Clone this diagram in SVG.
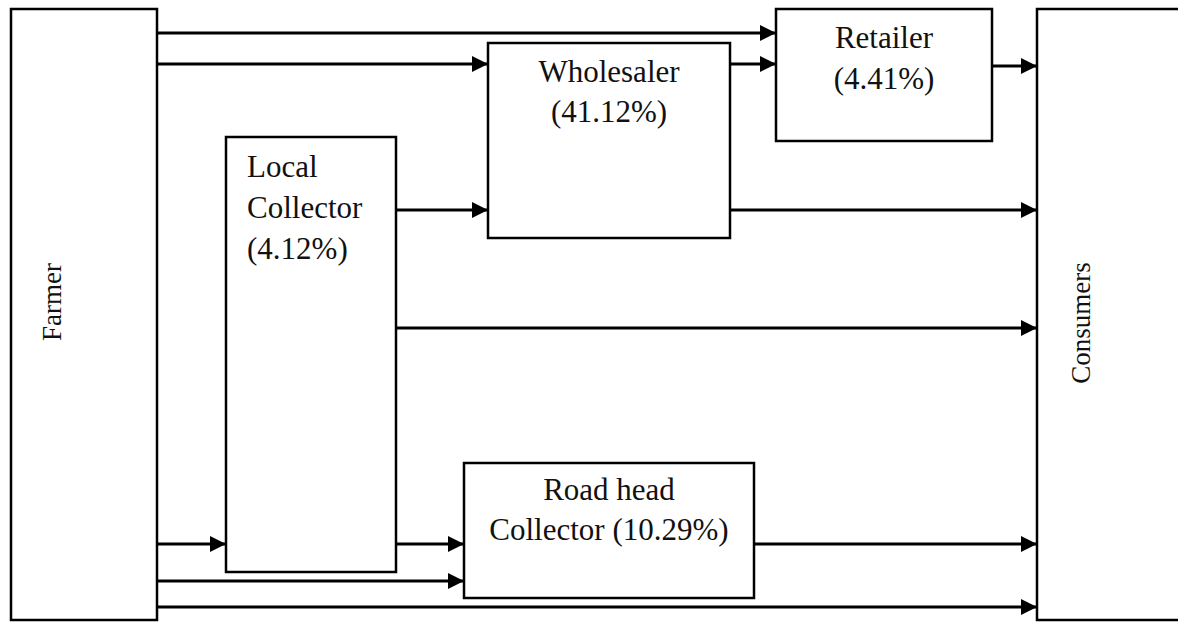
<svg xmlns="http://www.w3.org/2000/svg" width="1178" height="622" viewBox="0 0 1178 622">
<style>
.box{fill:#fff;stroke:#000;stroke-width:2.5}
.t{font-family:"Liberation Serif","Times New Roman",serif;font-size:31px;fill:#111}
.r{font-family:"Liberation Serif","Times New Roman",serif;font-size:27px;fill:#111}
.c line{stroke:#000;stroke-width:3;marker-end:url(#ah)}
</style>
<defs>
<marker id="ah" markerUnits="userSpaceOnUse" markerWidth="16" markerHeight="16" refX="16" refY="8" orient="auto" viewBox="0 0 16 16">
<path d="M0,0 L16,8 L0,16 z" fill="#000"/>
</marker>
</defs>
<rect width="1178" height="622" fill="#fff"/>
<g id="farmer"><rect class="box" x="11" y="9" width="146" height="611"/><text class="r" transform="translate(61,302) rotate(-90)" text-anchor="middle">Farmer</text></g>
<g id="consumers"><rect class="box" x="1037" y="9" width="150" height="611"/><text class="r" transform="translate(1090,323) rotate(-90)" text-anchor="middle">Consumers</text></g>
<g id="retailer"><rect class="box" x="776" y="9" width="216" height="132"/><text class="t" x="884" y="48" text-anchor="middle">Retailer</text><text class="t" x="884" y="89" text-anchor="middle">(4.41%)</text></g>
<g id="wholesaler"><rect class="box" x="488" y="43" width="242" height="195"/><text class="t" x="609" y="82" text-anchor="middle">Wholesaler</text><text class="t" x="609" y="122" text-anchor="middle">(41.12%)</text></g>
<g id="local-collector"><rect class="box" x="226" y="137" width="170" height="435"/><text class="t" x="247" y="177">Local</text><text class="t" x="247" y="218">Collector</text><text class="t" x="247" y="259">(4.12%)</text></g>
<g id="road-head"><rect class="box" x="464" y="463" width="290" height="135"/><text class="t" x="609" y="500" text-anchor="middle">Road head</text><text class="t" x="609" y="540" text-anchor="middle">Collector (10.29%)</text></g>
<g class="c" id="connectors">
<line x1="157" y1="33" x2="776" y2="33"/>
<line x1="157" y1="64" x2="488" y2="64"/>
<line x1="730" y1="64" x2="776" y2="64"/>
<line x1="992" y1="66" x2="1037" y2="66"/>
<line x1="396" y1="210" x2="488" y2="210"/>
<line x1="730" y1="210" x2="1037" y2="210"/>
<line x1="396" y1="328" x2="1037" y2="328"/>
<line x1="157" y1="544" x2="226" y2="544"/>
<line x1="396" y1="544" x2="464" y2="544"/>
<line x1="754" y1="544" x2="1037" y2="544"/>
<line x1="157" y1="581" x2="464" y2="581"/>
<line x1="157" y1="607" x2="1037" y2="607"/>
</g>
</svg>
